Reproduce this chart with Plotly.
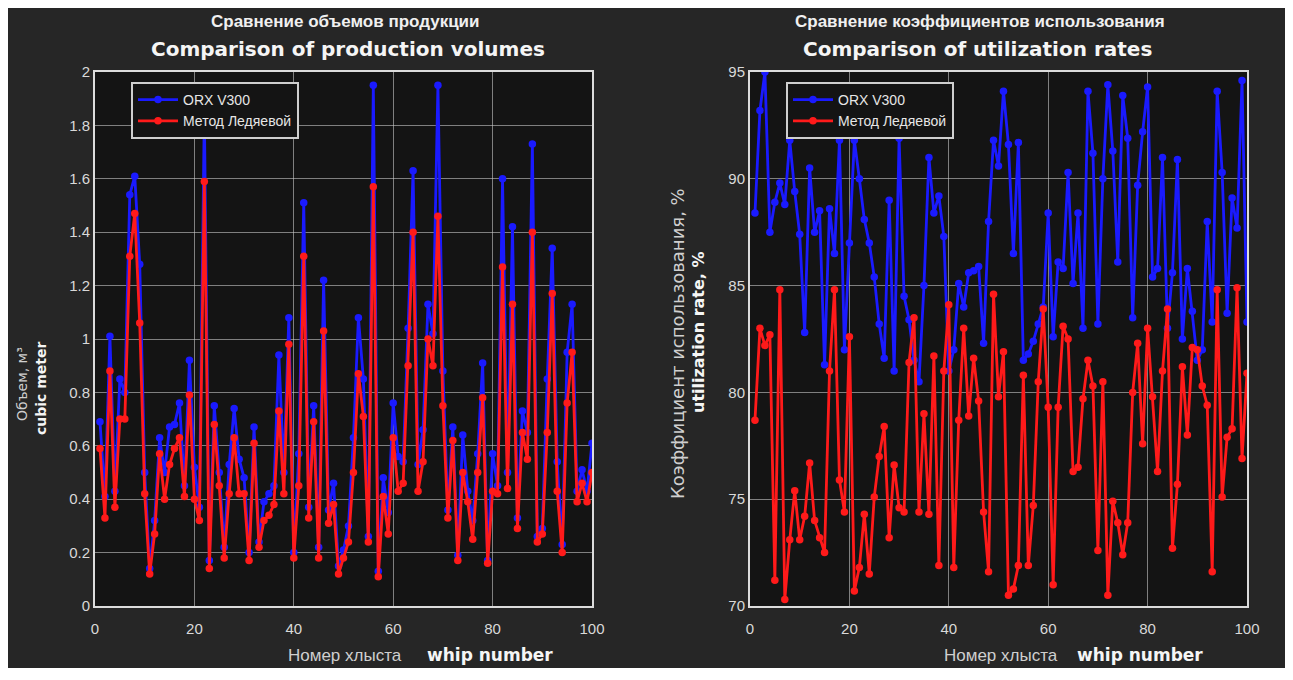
import plotly.graph_objects as go

whip = list(range(1, 101))

vol_orx = [0.69, 0.41, 1.01, 0.43, 0.85, 0.80, 1.54, 1.61, 1.28, 0.50,
           0.14, 0.32, 0.63, 0.50, 0.67, 0.68, 0.76, 0.45, 0.92, 0.52,
           0.37, 1.85, 0.17, 0.75, 0.50, 0.22, 0.53, 0.74, 0.55, 0.48,
           0.20, 0.67, 0.24, 0.39, 0.42, 0.45, 0.94, 0.50, 1.08, 0.20,
           0.57, 1.51, 0.37, 0.75, 0.22, 1.22, 0.36, 0.46, 0.15, 0.21,
           0.30, 0.63, 1.08, 0.85, 0.26, 1.95, 0.13, 0.48, 0.35, 0.76,
           0.56, 0.54, 1.04, 1.63, 0.53, 0.66, 1.13, 1.02, 1.95, 0.88,
           0.36, 0.67, 0.19, 0.64, 0.43, 0.32, 0.57, 0.91, 0.17, 0.57,
           0.45, 1.60, 0.50, 1.42, 0.33, 0.73, 0.65, 1.73, 0.26, 0.29,
           0.85, 1.34, 0.54, 0.23, 0.95, 1.13, 0.43, 0.51, 0.43, 0.61]

vol_led = [0.59, 0.33, 0.88, 0.37, 0.70, 0.70, 1.31, 1.47, 1.06, 0.42,
           0.12, 0.27, 0.57, 0.40, 0.53, 0.59, 0.63, 0.41, 0.79, 0.40,
           0.32, 1.59, 0.14, 0.68, 0.45, 0.18, 0.42, 0.63, 0.42, 0.42,
           0.17, 0.61, 0.22, 0.32, 0.34, 0.38, 0.73, 0.42, 0.98, 0.18,
           0.45, 1.31, 0.33, 0.69, 0.18, 1.03, 0.31, 0.38, 0.12, 0.18,
           0.24, 0.50, 0.87, 0.71, 0.24, 1.57, 0.11, 0.41, 0.27, 0.63,
           0.43, 0.46, 0.90, 1.40, 0.43, 0.54, 1.00, 0.90, 1.46, 0.75,
           0.33, 0.62, 0.17, 0.50, 0.39, 0.25, 0.50, 0.78, 0.16, 0.43,
           0.42, 1.27, 0.44, 1.13, 0.29, 0.65, 0.55, 1.40, 0.24, 0.27,
           0.65, 1.17, 0.43, 0.20, 0.76, 0.95, 0.39, 0.46, 0.39, 0.50]

util_orx = [88.4, 93.2, 95.0, 87.5, 88.9, 89.8, 88.8, 91.8, 89.4, 87.4,
            82.8, 90.5, 87.5, 88.5, 81.3, 88.6, 86.5, 91.8, 82.0, 87.0,
            91.8, 90.0, 88.1, 87.0, 85.4, 83.2, 81.6, 89.0, 81.0, 91.9,
            84.5, 83.4, 81.5, 80.5, 85.0, 91.0, 88.4, 89.2, 87.3, 81.0,
            82.0, 85.1, 84.0, 85.6, 85.7, 85.9, 82.3, 88.0, 91.8, 90.6,
            94.1, 91.6, 86.5, 91.7, 81.5, 81.8, 82.4, 83.2, 84.0, 88.4,
            82.6, 86.1, 85.8, 90.3, 85.1, 88.4, 83.0, 94.1, 91.2, 83.2,
            90.0, 94.4, 91.3, 86.1, 93.9, 91.9, 83.5, 89.7, 92.2, 94.3,
            85.4, 85.8, 91.0, 83.0, 85.6, 90.9, 82.5, 85.8, 83.8, 81.5,
            82.0, 88.0, 83.3, 94.1, 90.3, 83.7, 89.1, 87.7, 94.6, 83.3]

util_led = [78.7, 83.0, 82.2, 82.7, 71.2, 84.8, 70.3, 73.1, 75.4, 73.1,
            74.2, 76.7, 74.0, 73.2, 72.5, 81.0, 84.8, 75.9, 74.4, 82.6,
            70.7, 71.8, 74.3, 71.5, 75.1, 77.0, 78.4, 73.2, 76.6, 74.6,
            74.4, 81.4, 83.5, 74.4, 79.0, 74.3, 81.7, 71.9, 81.0, 84.1,
            71.8, 78.7, 83.0, 78.9, 81.6, 79.6, 74.4, 71.6, 84.6, 79.8,
            81.9, 70.5, 70.8, 71.9, 80.8, 71.9, 74.7, 80.5, 83.9, 79.3,
            71.0, 79.3, 83.1, 82.5, 76.3, 76.5, 79.7, 81.5, 80.3, 72.6,
            80.5, 70.5, 74.9, 73.9, 72.4, 73.9, 80.0, 82.3, 77.6, 83.0,
            79.8, 76.3, 81.0, 83.9, 72.7, 75.7, 81.2, 78.0, 82.1, 82.0,
            80.3, 79.4, 71.6, 84.8, 75.1, 77.9, 78.3, 84.9, 76.9, 80.9]

x_ticks = [0, 20, 40, 60, 80, 100]
vol_ticks = [0, 0.2, 0.4, 0.6, 0.8, 1, 1.2, 1.4, 1.6, 1.8, 2]
vol_labels = ["0", "0.2", "0.4", "0.6", "0.8", "1", "1.2", "1.4", "1.6", "1.8", "2"]
util_ticks = [70, 75, 80, 85, 90, 95]

name_orx = "ORX V300"
name_led = "Метод Ледяевой"

BLUE = "#1a1aff"
RED = "#ff1a1a"
PANEL = "#262626"
PLOTBG = "#141414"
GRID = "rgba(200,200,200,0.6)"
AXIS = "#dcdcdc"
TXT = "#d9d9d9"
FONT = "DejaVu Sans, sans-serif"
ARIAL = "Liberation Sans, Arial, sans-serif"

fig = go.Figure()


def add(xv, yv, name, color, xa, ya, leg):
    fig.add_trace(go.Scatter(
        x=xv, y=yv, name=name, mode="lines+markers",
        line=dict(color=color, width=2.8),
        marker=dict(color=color, size=7.5, symbol="circle"),
        xaxis=xa, yaxis=ya, legend=leg))


add(whip, vol_orx, name_orx, BLUE, "x", "y", "legend")
add(whip, vol_led, name_led, RED, "x", "y", "legend")
add(whip, util_orx, name_orx, BLUE, "x2", "y2", "legend2")
add(whip, util_led, name_led, RED, "x2", "y2", "legend2")

# The page body adds an 8 px white margin; the figure sits at (8, 8).
OFF = 8
W, H = 1282, 660
ML, MR, MT, MB = 95 - OFF, W - (1247 - OFF), 72 - OFF, H - (606 - OFF)
PW = W - ML - MR
PH = H - MT - MB


def px(xr):
    return (xr - OFF - ML) / PW


def py(yr):
    return (H - MB - (yr - OFF)) / PH


axis_common = dict(showgrid=True, gridcolor=GRID, gridwidth=1.3,
                   showline=True, linecolor=AXIS, linewidth=2, mirror=True,
                   zeroline=False, ticks="",
                   tickfont=dict(family=ARIAL, size=15, color=TXT))

fig.update_layout(
    width=W, height=H,
    margin=dict(l=ML, r=MR, t=MT, b=MB),
    paper_bgcolor=PANEL, plot_bgcolor=PLOTBG,
    showlegend=True,
    xaxis=dict(domain=[0, px(592)], range=[0, 100], tickvals=x_ticks,
               anchor="y", ticklabelstandoff=8, **axis_common),
    yaxis=dict(domain=[0, 1], range=[0, 2], tickvals=vol_ticks,
               ticktext=vol_labels, anchor="x", **axis_common),
    xaxis2=dict(domain=[px(750), 1], range=[0, 100], tickvals=x_ticks,
                anchor="y2", ticklabelstandoff=8, **axis_common),
    yaxis2=dict(domain=[0, 1], range=[70, 95], tickvals=util_ticks,
                anchor="x2", **axis_common),
    legend=dict(x=px(131), y=py(82), xanchor="left", yanchor="top",
                bgcolor=PLOTBG, bordercolor="#cfcfcf", borderwidth=2,
                font=dict(family=ARIAL, size=14, color="#e6e6e6"),
                itemwidth=40, tracegroupgap=0),
    legend2=dict(x=px(786), y=py(82), xanchor="left", yanchor="top",
                 bgcolor=PLOTBG, bordercolor="#cfcfcf", borderwidth=2,
                 font=dict(family=ARIAL, size=14, color="#e6e6e6"),
                 itemwidth=40, tracegroupgap=0),
)

ann = []


def text(x, y, s, size, bold=False, family=FONT, color=TXT, angle=0):
    ann.append(dict(x=px(x), y=py(y), xref="paper", yref="paper",
                    text=("<b>%s</b>" % s) if bold else s, showarrow=False,
                    textangle=angle, xanchor="center", yanchor="middle",
                    font=dict(family=family, size=size, color=color)))


# titles
text(345, 21, "Сравнение объемов продукции", 17, bold=True, family=ARIAL, color="#f0f0f0")
text(348, 49, "Comparison of production volumes", 20, bold=True, color="#f5f5f5")
text(980, 21, "Сравнение коэффициентов использования", 17, bold=True, family=ARIAL, color="#f0f0f0")
text(977, 49, "Comparison of utilization rates", 20, bold=True, color="#f5f5f5")

# x-axis titles
text(345, 655, "Номер хлыста", 17, family=ARIAL, color="#cfcfcf")
text(490, 655, "whip number", 17, bold=True, color="#f5f5f5")
text(1001, 655, "Номер хлыста", 17, family=ARIAL, color="#cfcfcf")
text(1140, 655, "whip number", 17, bold=True, color="#f5f5f5")

# y-axis titles
text(22, 384, "Объем, м³", 14, color="#cfcfcf", angle=-90)
text(41, 388, "cubic meter", 14, bold=True, color="#f5f5f5", angle=-90)
text(677, 344, "Коэффициент использования, %", 18, color="#cfcfcf", angle=-90)
text(698, 332, "utilization rate, %", 16, bold=True, color="#f5f5f5", angle=-90)

fig.update_layout(annotations=ann)

fig.write_html("out.html")
